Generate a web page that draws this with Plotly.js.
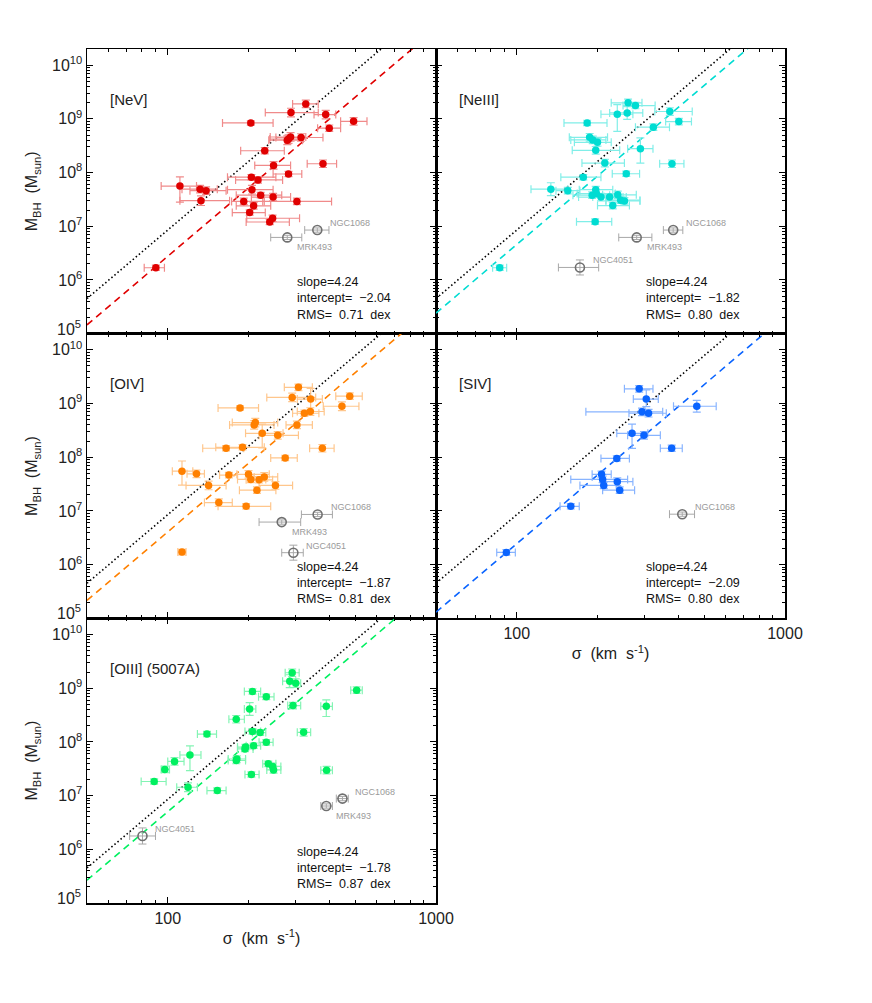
<!DOCTYPE html>
<html>
<head>
<meta charset="utf-8">
<script src="https://cdn.plot.ly/plotly-3.0.1.min.js"></script>
<style>
  html, body { margin: 0; padding: 0; background: #fff; }
  #chart { width: 872px; height: 1003px; }
</style>
</head>
<body>
<div id="chart"></div>
<script>
// M_BH vs sigma for five emission lines. sigma in km/s, M in Msun,
// sigma errors given as bar ends, M errors in dex.

// [NeV]
const neSig = [327, 288, 388, 493, 204, 400, 314, 287, 282, 279, 230, 248, 379, 282, 205, 217, 111, 132, 139, 206, 222, 247, 133, 192, 303, 209, 202, 246, 240, 90.3];
const neLo  = [292, 231, 351, 441, 160, 362, 253, 241, 240, 238, 187, 211, 331, 247, 167, 179, 94.5, 113, 121, 167, 180, 205, 111, 173, 226, 180, 174, 197, 196, 81.7];
const neHi  = [364, 364, 423, 553, 247, 441, 379, 327, 320, 318, 272, 287, 426, 316, 253, 268, 128, 153, 165, 247, 266, 287, 170, 229, 408, 242, 231, 310, 284, 97.2];
const neM   = [1.9e9, 1.31e9, 1.2e9, 9.0e8, 8.4e8, 6.7e8, 4.5e8, 4.6e8, 4.2e8, 4.0e8, 2.55e8, 1.36e8, 1.46e8, 9.4e7, 8.2e7, 7.3e7, 5.6e7, 4.9e7, 4.6e7, 4.8e7, 3.8e7, 3.5e7, 3.0e7, 2.9e7, 2.9e7, 2.4e7, 1.8e7, 1.41e7, 1.2e7, 1.69e6];
const neUp  = [.07, .08, .08, .07, .04, .06, .07, .08, .08, .08, .06, .07, .07, .05, .05, .06, .17, .07, .07, .08, .05, .07, .09, .06, .06, .06, .05, .06, .05, .05];
const neDn  = [.07, .08, .08, .07, .04, .06, .07, .08, .08, .08, .06, .07, .07, .05, .05, .06, .30, .07, .07, .08, .05, .07, .09, .06, .06, .06, .05, .06, .05, .05];

// [NeIII]
const n3Sig = [260, 277, 237, 258, 372, 402, 183, 323, 187, 192, 200, 289, 197, 213, 379, 256, 177, 134, 155, 197, 198, 191, 206, 222, 238, 244, 252, 228, 196, 86.4];
const n3Lo  = [225, 249, 206, 222, 327, 359, 150, 277, 157, 159, 164, 259, 161, 175, 341, 227, 146, 113, 140, 171, 168, 162, 170, 192, 209, 215, 215, 200, 167, 81.3];
const n3Hi  = [293, 328, 271, 295, 451, 448, 217, 371, 218, 215, 225, 322, 242, 252, 420, 287, 206, 155, 172, 228, 233, 222, 249, 256, 279, 288, 288, 263, 226, 91.7];
const n3M   = [1.99e9, 1.77e9, 1.22e9, 1.29e9, 1.37e9, 8.9e8, 8.4e8, 7.0e8, 4.54e8, 4.05e8, 3.66e8, 2.79e8, 2.6e8, 1.5e8, 1.46e8, 9.5e7, 8.2e7, 4.9e7, 4.6e7, 4.8e7, 4.07e7, 3.8e7, 3.5e7, 3.5e7, 3.85e7, 3.06e7, 2.97e7, 2.43e7, 1.22e7, 1.69e6];
const n3Up  = [.07, .06, .18, .12, .07, .06, .05, .06, .07, .07, .07, .20, .07, .07, .07, .05, .05, .12, .06, .06, .07, .06, .07, .06, .07, .06, .06, .06, .05, .05];
const n3Dn  = [.07, .06, .32, .12, .07, .06, .05, .06, .07, .07, .07, .27, .07, .07, .07, .05, .05, .12, .06, .06, .07, .06, .07, .06, .07, .06, .06, .06, .05, .05];

// [OIV]
const o4Sig = [307, 291, 341, 477, 446, 186, 323, 340, 212, 210, 303, 225, 257, 165, 190, 377, 274, 113, 128, 142, 169, 200, 204, 219, 229, 252, 215, 155, 196, 113];
const o4Lo  = [272, 234, 304, 423, 380, 154, 292, 304, 174, 170, 276, 195, 219, 135, 151, 338, 242, 104, 118, 117, 156, 181, 182, 196, 210, 219, 185, 137, 154, 109];
const o4Hi  = [346, 356, 377, 531, 516, 218, 366, 383, 257, 249, 346, 269, 307, 192, 229, 417, 304, 124, 137, 165, 182, 239, 232, 246, 257, 292, 253, 174, 242, 117];
const o4M   = [2.0e9, 1.30e9, 1.21e9, 1.37e9, 8.9e8, 8.3e8, 6.6e8, 7.1e8, 4.42e8, 4.0e8, 4.0e8, 2.79e8, 2.56e8, 1.47e8, 1.53e8, 1.47e8, 9.7e7, 5.5e7, 4.9e7, 2.98e7, 4.65e7, 4.8e7, 3.86e7, 3.8e7, 4.3e7, 2.98e7, 2.44e7, 1.43e7, 1.22e7, 1.71e6];
const o4Up  = [.06, .08, .20, .06, .08, .04, .06, .07, .08, .08, .07, .17, .07, .05, .05, .07, .05, .19, .07, .08, .05, .07, .06, .06, .08, .07, .06, .07, .05, .05];
const o4Dn  = [.06, .08, .23, .06, .08, .04, .06, .07, .08, .08, .07, .27, .07, .05, .05, .07, .05, .26, .07, .08, .05, .07, .06, .06, .08, .07, .06, .07, .05, .05];

// [SIV]
const s4Sig = [286, 304, 293, 310, 469, 269, 298, 378, 236, 207, 209, 211, 237, 242, 159, 91.5];
const s4Lo  = [252, 272, 181, 262, 384, 236, 259, 343, 206, 191, 159, 172, 206, 209, 145, 84.2];
const s4Hi  = [322, 337, 350, 361, 554, 308, 343, 414, 263, 225, 259, 235, 271, 275, 171, 98.8];
const s4M   = [1.88e9, 1.21e9, 7.0e8, 6.6e8, 8.9e8, 2.79e8, 2.56e8, 1.47e8, 9.5e7, 4.8e7, 3.86e7, 2.98e7, 3.5e7, 2.44e7, 1.22e7, 1.69e6];
const s4Up  = [.06, .17, .07, .07, .11, .17, .07, .06, .05, .06, .06, .06, .07, .06, .05, .05];
const s4Dn  = [.06, .14, .07, .07, .11, .28, .07, .06, .05, .06, .06, .06, .07, .06, .05, .05];

// [OIII] 5007
const o3Sig = [291, 285, 300, 506, 207, 233, 202, 293, 390, 180, 140, 207, 221, 321, 233, 195, 194, 209, 121, 106, 181, 180, 97.5, 237, 246, 248, 391, 205, 89, 119, 153];
const o3Lo  = [274, 268, 284, 481, 193, 218, 193, 280, 372, 169, 129, 194, 207, 304, 219, 182, 182, 196, 111, 100, 168, 168, 94.5, 226, 234, 234, 372, 194, 79.6, 108, 140];
const o3Hi  = [309, 300, 313, 531, 222, 249, 213, 313, 411, 193, 152, 222, 232, 341, 247, 208, 208, 222, 133, 115, 195, 195, 101.5, 253, 264, 264, 411, 219, 98.6, 129, 165];
const o3M   = [1.94e9, 1.35e9, 1.24e9, 9.2e8, 8.7e8, 6.9e8, 4.1e8, 4.75e8, 4.6e8, 2.64e8, 1.40e8, 1.57e8, 1.49e8, 1.51e8, 9.8e7, 8.0e7, 7.4e7, 8.5e7, 5.7e7, 4.33e7, 4.8e7, 4.5e7, 3.07e7, 3.9e7, 3.5e7, 3.0e7, 2.98e7, 2.47e7, 1.83e7, 1.43e7, 1.24e7];
const o3Up  = [.07, .12, .08, .06, .05, .05, .12, .06, .12, .07, .05, .05, .05, .07, .05, .05, .05, .05, .17, .07, .06, .06, .06, .05, .06, .06, .07, .05, .05, .08, .05];
const o3Dn  = [.07, .12, .08, .06, .05, .05, .12, .06, .19, .07, .05, .05, .05, .07, .05, .05, .05, .05, .29, .07, .06, .06, .06, .05, .06, .06, .07, .05, .05, .08, .05];

// excluded objects (grey open circles)
const neGName = ['NGC1068', 'MRK493'];
const neGSig = [361, 279], neGLo = [324, 242], neGHi = [399, 316], neGM = [8.5e6, 6.2e6], neGErr = [.04, .04];
const n3GName = ['NGC1068', 'MRK493', 'NGC4051'];
const n3GSig = [383, 280, 172], n3GLo = [352, 240, 143], n3GHi = [416, 319, 202], n3GM = [8.5e6, 6.2e6, 1.71e6], n3GErr = [.04, .04, .14];
const o4GName = ['NGC1068', 'MRK493', 'NGC4051'];
const o4GSig = [362, 266, 294], o4GLo = [315, 219, 266], o4GHi = [411, 313, 320], o4GM = [8.6e6, 6.2e6, 1.67e6], o4GErr = [.04, .04, .14];
const s4GName = ['NGC1068'];
const s4GSig = [414], s4GLo = [371], s4GHi = [460], s4GM = [8.7e6], s4GErr = [.04];
const o3GName = ['NGC1068', 'MRK493', 'NGC4051'];
const o3GSig = [448, 390, 80.5], o3GLo = [425, 372, 72.1], o3GHi = [471, 411, 90], o3GM = [8.8e6, 6.4e6, 1.77e6], o3GErr = [.04, .04, .15];

// fit results: log M = intercept + slope * log sigma
const slope = 4.24;
const refIntercept = -1.55;   // black dotted reference relation
const panelNames = ['[NeV]', '[NeIII]', '[OIV]', '[SIV]', '[OIII] (5007A)'];
const intercepts = [-2.04, -1.82, -1.87, -2.09, -1.78];
const rms = [0.71, 0.80, 0.81, 0.80, 0.87];

const FONT = 'Liberation Sans, Arial, Helvetica, sans-serif';
const GREY = '#707070';
const TXT = '#222';

const panels = [
  {sig: neSig, lo: neLo, hi: neHi, m: neM, up: neUp, dn: neDn, color: '#e00000', err: '#f08a8a',
   g: {name: neGName, sig: neGSig, lo: neGLo, hi: neGHi, m: neGM, e: neGErr}},
  {sig: n3Sig, lo: n3Lo, hi: n3Hi, m: n3M, up: n3Up, dn: n3Dn, color: '#00dcd2', err: '#80eee8',
   g: {name: n3GName, sig: n3GSig, lo: n3GLo, hi: n3GHi, m: n3GM, e: n3GErr}},
  {sig: o4Sig, lo: o4Lo, hi: o4Hi, m: o4M, up: o4Up, dn: o4Dn, color: '#ff8000', err: '#ffc68c',
   g: {name: o4GName, sig: o4GSig, lo: o4GLo, hi: o4GHi, m: o4GM, e: o4GErr}},
  {sig: s4Sig, lo: s4Lo, hi: s4Hi, m: s4M, up: s4Up, dn: s4Dn, color: '#0a64ff', err: '#88b4ff',
   g: {name: s4GName, sig: s4GSig, lo: s4GLo, hi: s4GHi, m: s4GM, e: s4GErr}},
  {sig: o3Sig, lo: o3Lo, hi: o3Hi, m: o3M, up: o3Up, dn: o3Dn, color: '#00f060', err: '#84f4b4',
   g: {name: o3GName, sig: o3GSig, lo: o3GLo, hi: o3GHi, m: o3GM, e: o3GErr}},
];

// [xdomain, ydomain, show x labels, show y labels]
const grid = [
  [[0, 0.5], [2 / 3, 1], false, true],
  [[0.5, 1], [2 / 3, 1], false, false],
  [[0, 0.5], [1 / 3, 2 / 3], false, true],
  [[0.5, 1], [1 / 3, 2 / 3], true, false],
  [[0, 0.5], [0, 1 / 3], true, true],
];

const xMinor = [];
[10, 100].forEach(d => { for (let k = 2; k <= 9; k++) if (k * d > 50) xMinor.push(k * d); });
// 10^5 sits on the panel edge; its label is drawn as an annotation, slightly raised
const yMajor = [], yMajorText = [], yMinor = [];
for (let e = 5; e <= 10; e++) {
  yMajor.push(Math.pow(10, e));
  yMajorText.push(e === 5 ? ' ' : '10<sup>' + e + '</sup>');
  if (e < 10) for (let k = 2; k <= 9; k++) yMinor.push(k * Math.pow(10, e));
}

const nb = s => s.replace(/ /g, '\u00a0');
const traces = [];
const annotations = [];
const layout = {
  width: 872, height: 1003,
  margin: {l: 87, r: 87, t: 49, b: 100},
  paper_bgcolor: '#fff', plot_bgcolor: '#fff',
  showlegend: false,
  font: {family: FONT, color: TXT},
  annotations: annotations,
};

panels.forEach((p, i) => {
  const n = i === 0 ? '' : String(i + 1);
  const xa = 'x' + n, ya = 'y' + n;
  const [xd, yd, showX, showY] = grid[i];

  const xaxis = {
    type: 'log', range: [Math.log10(50), 3], domain: xd, anchor: ya,
    showline: true, linecolor: '#000', linewidth: 1.5, mirror: 'allticks',
    ticks: 'inside', ticklen: 6, tickwidth: 1, tickcolor: '#000',
    tickmode: 'array', tickvals: [100, 1000], ticktext: ['100', '1000'],
    showticklabels: showX, tickfont: {size: 16, color: TXT},
    minor: {tickmode: 'array', tickvals: xMinor, ticks: 'inside', ticklen: 3, tickwidth: 1, tickcolor: '#000'},
    showgrid: false, zeroline: false, fixedrange: true,
  };
  if (showX) xaxis.title = {text: nb('σ  (km  s<sup>-1</sup>)'), font: {size: 16, color: TXT}, standoff: 7};
  layout['xaxis' + n] = xaxis;

  const yaxis = {
    type: 'log', range: [5, Math.log10(2e10)], domain: yd, anchor: xa,
    showline: true, linecolor: '#000', linewidth: 1.5, mirror: 'allticks',
    ticks: 'inside', ticklen: 6, tickwidth: 1, tickcolor: '#000',
    tickmode: 'array', tickvals: yMajor, ticktext: yMajorText,
    showticklabels: showY, tickfont: {size: 16, color: TXT},
    minor: {tickmode: 'array', tickvals: yMinor, ticks: 'inside', ticklen: 3, tickwidth: 1, tickcolor: '#000'},
    showgrid: false, zeroline: false, fixedrange: true,
  };
  if (showY) {
    yaxis.title = {text: nb('M<sub>BH</sub>  (M<sub>sun</sub>)'), font: {size: 16, color: TXT}, standoff: 10};
    annotations.push({
      xref: xa + ' domain', yref: ya + ' domain', x: 0, y: 0, xshift: -4, yshift: 6,
      text: '10<sup>5</sup>', showarrow: false, xanchor: 'right', yanchor: 'middle',
      font: {family: FONT, size: 16, color: TXT},
    });
  }
  layout['yaxis' + n] = yaxis;

  // reference (dotted) and fitted (dashed) relations
  const ends = [50, 1000];
  traces.push({
    type: 'scatter', mode: 'lines', xaxis: xa, yaxis: ya, hoverinfo: 'skip',
    x: ends, y: ends.map(s => Math.pow(10, refIntercept + slope * Math.log10(s))),
    line: {color: '#000', width: 1.6, dash: '1.5px,2.5px'},
  });
  traces.push({
    type: 'scatter', mode: 'lines', xaxis: xa, yaxis: ya, hoverinfo: 'skip',
    x: ends, y: ends.map(s => Math.pow(10, intercepts[i] + slope * Math.log10(s))),
    line: {color: p.color, width: 1.6, dash: '7px,5px'},
  });

  // excluded objects
  const g = p.g;
  traces.push({
    type: 'scatter', mode: 'markers', xaxis: xa, yaxis: ya,
    x: g.sig, y: g.m, text: g.name,
    error_x: {type: 'data', symmetric: false,
      array: g.sig.map((s, k) => g.hi[k] - s), arrayminus: g.sig.map((s, k) => s - g.lo[k]),
      color: '#a8a8a8', thickness: 1, width: 4},
    error_y: {type: 'data', symmetric: false,
      array: g.m.map((m, k) => m * (Math.pow(10, g.e[k]) - 1)),
      arrayminus: g.m.map((m, k) => m * (1 - Math.pow(10, -g.e[k]))),
      color: '#a8a8a8', thickness: 1, width: 4},
    marker: {symbol: 'circle-open', size: 9, color: GREY, line: {color: GREY, width: 1.6}},
  });
  g.name.forEach((nm, k) => {
    const below = nm === 'MRK493';
    annotations.push({
      xref: xa, yref: ya, x: Math.log10(g.sig[k]), y: Math.log10(g.m[k]),
      text: nm, showarrow: false, xanchor: 'left', yanchor: 'middle',
      xshift: below ? 8 : 11, yshift: below ? -10 : 7,
      font: {family: FONT, size: 9, color: '#9a9a9a'},
    });
  });

  // detected objects
  traces.push({
    type: 'scatter', mode: 'markers', xaxis: xa, yaxis: ya,
    x: p.sig, y: p.m,
    error_x: {type: 'data', symmetric: false,
      array: p.sig.map((s, k) => p.hi[k] - s), arrayminus: p.sig.map((s, k) => s - p.lo[k]),
      color: p.err, thickness: 1.2, width: 4},
    error_y: {type: 'data', symmetric: false,
      array: p.m.map((m, k) => m * (Math.pow(10, p.up[k]) - 1)),
      arrayminus: p.m.map((m, k) => m * (1 - Math.pow(10, -p.dn[k]))),
      color: p.err, thickness: 1.2, width: 4},
    marker: {symbol: 'circle', size: 7.5, color: p.color},
  });

  // panel label and fit summary
  annotations.push({
    xref: xa + ' domain', yref: ya + ' domain', x: 0.059, y: 0.824,
    text: panelNames[i], showarrow: false, xanchor: 'left', yanchor: 'middle',
    font: {family: FONT, size: 15, color: TXT},
  });
  const lines = ['slope=' + slope.toFixed(2),
                 nb('intercept=  ' + (intercepts[i] < 0 ? '\u2212' : '') + Math.abs(intercepts[i]).toFixed(2)),
                 nb('RMS=  ' + rms[i].toFixed(2) + '  dex')];
  const ly = [0.180, 0.124, 0.067];
  lines.forEach((t, k) => annotations.push({
    xref: xa + ' domain', yref: ya + ' domain', x: 0.597, y: ly[k],
    text: t, showarrow: false, xanchor: 'left', yanchor: 'middle',
    font: {family: FONT, size: 12.5, color: '#111'},
  }));
});

Plotly.newPlot('chart', traces, layout, {displayModeBar: false, staticPlot: true});
</script>
</body>
</html>
